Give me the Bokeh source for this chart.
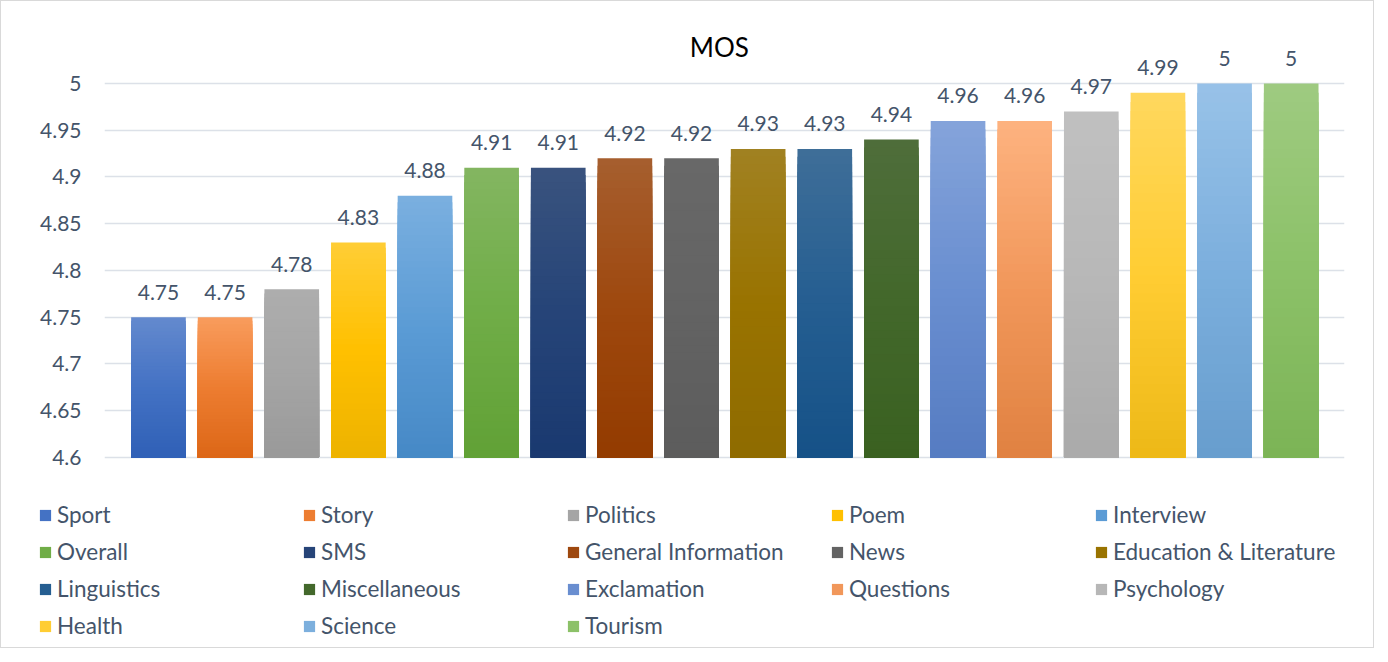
import colorsys
from bokeh.plotting import figure
from bokeh.layouts import column
from bokeh.models import Range1d, FixedTicker, Legend, LegendItem, ColumnDataSource, Label
from bokeh.core.properties import value
from bokeh.embed import file_html
from bokeh.resources import INLINE

# ---- data ----
categories = ["Sport", "Story", "Politics", "Poem", "Interview", "Overall", "SMS",
              "General Information", "News", "Education & Literature", "Linguistics",
              "Miscellaneous", "Exclamation", "Questions", "Psychology", "Health",
              "Science", "Tourism"]
mos_values = [4.75, 4.75, 4.78, 4.83, 4.88, 4.91, 4.91, 4.92, 4.92, 4.93, 4.93,
              4.94, 4.96, 4.96, 4.97, 4.99, 5, 5]
tick_labels = ["4.6", "4.65", "4.7", "4.75", "4.8", "4.85", "4.9", "4.95", "5"]
chart_title = "MOS"

# ---- styles ----
base_colors = ["#4472C4", "#ED7D31", "#A5A5A5", "#FFC000", "#5B9BD5", "#70AD47",
               "#264478", "#9E480E", "#636363", "#997300", "#255E91", "#43682B",
               "#698ED0", "#F1975A", "#B7B7B7", "#FFCD33", "#7CAFDD", "#8CC168"]
TEXT = "#44546A"
FONT = "Lato"
BASE = 4.6
N_SLICES = 40


def hex2rgb(h):
    h = h.lstrip("#")
    return tuple(int(h[i:i + 2], 16) / 255 for i in (0, 2, 4))


def rgb2hex(c):
    return "#%02x%02x%02x" % tuple(max(0, min(255, round(v * 255))) for v in c)


def adjust(rgb, s_mul, v_mul):
    h, s, v = colorsys.rgb_to_hsv(*rgb)
    return colorsys.hsv_to_rgb(h, min(1, s * s_mul), min(1, v * v_mul))


def mix(a, b, t):
    return tuple(a[i] + (b[i] - a[i]) * t for i in range(3))


def grad_color(base_hex, t):
    base = hex2rgb(base_hex)
    light = adjust(base, 0.79, 1.05)
    dark = adjust(base, 1.13, 0.93)
    if t >= 0.5:
        return rgb2hex(mix(base, light, (t - 0.5) * 2))
    return rgb2hex(mix(dark, base, t * 2))


xs = list(range(len(categories)))
solid_src = ColumnDataSource(dict(x=xs, top=mos_values, color=base_colors, cat=categories))

# ---------------- chart figure ----------------
p = figure(width=1372, height=490, output_backend="svg", toolbar_location=None,
           x_range=Range1d(-0.81, 17.8), y_range=Range1d(4.5636, 5.0877),
           x_axis_location=None, min_border_left=103, min_border_right=29,
           min_border_top=0, min_border_bottom=0)
p.outline_line_color = None
p.background_fill_color = "white"
p.border_fill_color = "white"

# gradient slices, tallest (lightest) first
gx, gtop, gcol = [], [], []
for i, v in enumerate(mos_values):
    for j in range(N_SLICES, 0, -1):
        gx.append(xs[i])
        gtop.append(BASE + (v - BASE) * j / N_SLICES)
        gcol.append(grad_color(base_colors[i], (j - 0.5) / N_SLICES))
p.vbar(x=gx, top=gtop, bottom=BASE, width=0.82, fill_color=gcol, line_color=None)

# data labels
p.text(x=xs, y=mos_values, text=[f"{v:g}" for v in mos_values], text_align="center",
       text_baseline="middle", y_offset=-25, text_font=value(FONT),
       text_font_size="21px", text_color=TEXT)

# title
p.add_layout(Label(x=(len(categories) - 1) / 2, y=5.039, text=chart_title,
                   text_align="center", text_baseline="middle", x_offset=-5.5,
                   text_font=FONT, text_font_size="26px", text_color="black"))

# axes / grid
tick_vals = [float(t) for t in tick_labels]
p.yaxis.ticker = FixedTicker(ticks=tick_vals)
p.yaxis.major_label_overrides = {tv: tl for tv, tl in zip(tick_vals, tick_labels)}
p.yaxis.axis_line_color = None
p.yaxis.major_tick_line_color = None
p.yaxis.minor_tick_line_color = None
p.yaxis.major_tick_out = 0
p.yaxis.major_tick_in = 0
p.yaxis.major_label_standoff = 23
p.yaxis.major_label_text_font = FONT
p.yaxis.major_label_text_font_size = "21px"
p.yaxis.major_label_text_color = TEXT
p.ygrid.grid_line_color = "#DCE1E8"
p.ygrid.grid_line_width = 1.5
p.xgrid.visible = False

# ---------------- legend figure ----------------
lp = figure(width=1372, height=156, output_backend="svg", toolbar_location=None,
            x_range=Range1d(100, 101), y_range=Range1d(100, 101),
            x_axis_location=None, y_axis_location=None,
            min_border_left=0, min_border_right=0, min_border_top=0, min_border_bottom=0)
lp.outline_line_color = None
lp.xgrid.visible = False
lp.ygrid.visible = False
for fig in (p, lp):
    try:
        fig.frame_align = False
    except Exception:
        pass
# same bars, outside the visible range: only used for the legend swatches
solid = lp.vbar(x="x", top="top", bottom=BASE, width=0.82, fill_color="color",
                line_color=None, source=solid_src)

items = [LegendItem(label=c, renderers=[solid], index=i) for i, c in enumerate(categories)]
legend = Legend(items=items, orientation="horizontal", ncols=5, location=(37, 3),
                glyph_width=14, glyph_height=14, label_standoff=5, label_width=245,
                label_height=37, spacing=0, padding=0, margin=0,
                border_line_color=None, background_fill_alpha=0,
                label_text_font=FONT, label_text_font_size="22.5px",
                label_text_color=TEXT)
lp.add_layout(legend)

layout = column(p, lp, spacing=0, styles={"border": "1px solid #D9D9D9"})

open("out.html", "w").write(file_html(layout, INLINE))
